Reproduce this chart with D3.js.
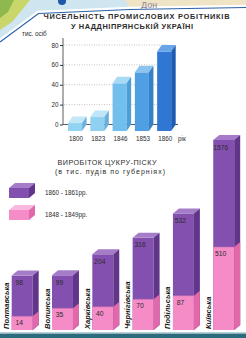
<!DOCTYPE html>
<html lang="uk">
<head>
    <meta charset="utf-8" />
    <title>Промислові робітники та цукор</title>
    <script src="https://d3js.org/d3.v7.min.js"></script>
    <style>
        body { margin: 0; background: white; }
        svg { display: block; }
        text { font-family: 'Liberation Sans', Arial, sans-serif; fill: #2b2b2b; }
    </style>
</head>
<body>
<script>
    // --- data ---
    const years = ["1800", "1823", "1846", "1853", "1860"];
    const workers = [8, 14, 48, 59, 80];          // тис. осіб
    const workerTicks = [0, 20, 40, 60, 80];

    const regions = ["Полтавська", "Волинська", "Харківська", "Чернігівська", "Подільська", "Київська"];
    const sugar1860 = [98, 99, 204, 316, 532, 1576];
    const sugar1848 = [14, 35, 40, 70, 87, 510];
    const legendLabels = ["1860 - 1861рр.", "1848 - 1849рр."];

    // colours of the blue bars (front, side, top)
    const blueShades = [
        ["#93d3f2", "#6cb2dc", "#c2e7f8"],
        ["#90d0f1", "#6aafda", "#bfe5f8"],
        ["#72bfee", "#4c9fd6", "#a8daf6"],
        ["#4f9fe2", "#3580c8", "#8cc4ef"],
        ["#2f77d3", "#1e5bb2", "#69a5e6"]
    ];
    const purple = ["#8450b0", "#61358a", "#a57cc8"];
    const pink = ["#f58cc8", "#e168aa", "#f9b8dd"];

    const W = 246, H = 338;
    const svg = d3.select("body").append("svg").attr("width", W).attr("height", H);

    // draws a box: front face, top face and right side face
    function box(g, x, yTop, yBot, w, dx, dy, c) {
        g.append("rect").attr("x", x).attr("y", yTop).attr("width", w).attr("height", yBot - yTop).attr("fill", c[0]);
        g.append("path").attr("fill", c[2])
            .attr("d", `M${x},${yTop}L${x + dx},${yTop - dy}L${x + w + dx},${yTop - dy}L${x + w},${yTop}Z`);
        g.append("path").attr("fill", c[1])
            .attr("d", `M${x + w},${yTop}L${x + w + dx},${yTop - dy}L${x + w + dx},${yBot - dy}L${x + w},${yBot}Z`);
    }

    // --- map fragment at the top ---
    const map = svg.append("g");
    map.append("path").attr("d", "M0,0H246V6L130,8L38,12L0,40Z").attr("fill", "#cfe6f1");
    map.append("path").attr("d", "M125,0H246V6L130,8Z").attr("fill", "#efe4c6");
    map.append("path").attr("d", "M0,0H30L22,10L12,22L0,30Z").attr("fill", "#c9d66a");
    map.append("path").attr("d", "M0,0H14L8,12L0,18Z").attr("fill", "#8fb84e");
    map.append("path").attr("d", "M246,6L130,8L38,12L0,40").attr("fill", "none")
        .attr("stroke", "#ffffff").attr("stroke-width", 2.5);
    map.append("path").attr("d", "M246,7.5L130,9.5L38.5,13.5L0,42").attr("fill", "none")
        .attr("stroke", "#2a62a8").attr("stroke-width", 1.2);
    map.append("circle").attr("cx", 62).attr("cy", 1).attr("r", 4).attr("fill", "#1f58a6");
    map.append("text").attr("x", 141).attr("y", 8).attr("font-size", 9).style("fill", "#8d8497").text("Дон");

    // --- chart 1: workers ---
    const c1 = svg.append("g");
    c1.append("text").attr("x", 136.5).attr("y", 18.5).attr("text-anchor", "middle")
        .attr("font-size", 7.4).attr("font-weight", "bold").attr("textLength", 186)
        .text("ЧИСЕЛЬНІСТЬ ПРОМИСЛОВИХ РОБІТНИКІВ");
    c1.append("text").attr("x", 132).attr("y", 28.5).attr("text-anchor", "middle")
        .attr("font-size", 7.4).attr("font-weight", "bold").attr("textLength", 122)
        .text("У НАДДНІПРЯНСЬКІЙ УКРАЇНІ");
    c1.append("text").attr("x", 22).attr("y", 36).attr("font-size", 6.3).text("тис. осіб");

    const x1 = d3.scaleBand().domain(years).range([68, 171.2]).paddingInner(0.37).paddingOuter(0).align(0);
    const y1 = d3.scaleLinear().domain([0, 80]).range([124.5, 45]);
    const dx1 = 4.5, dy1 = 6.5;

    // dotted grid
    c1.append("g").selectAll("line").data(workerTicks.filter(t => t > 0)).join("line")
        .attr("x1", 64).attr("x2", 168)
        .attr("y1", d => y1(d)).attr("y2", d => y1(d))
        .attr("stroke", "#9a9a9a").attr("stroke-width", 0.6).attr("stroke-dasharray", "1,1.5");

    // axes
    const yAx = c1.append("g").attr("transform", "translate(63,0)")
        .call(d3.axisLeft(y1).tickValues(workerTicks).tickSize(3).tickPadding(1.5));
    yAx.select(".domain").remove();
    yAx.selectAll("line").attr("stroke", "#333");
    yAx.selectAll("text").attr("font-size", 6.3).style("font-family", "'Liberation Sans', Arial, sans-serif").style("fill", "#2b2b2b");
    c1.append("line").attr("x1", 63).attr("x2", 63).attr("y1", 38).attr("y2", y1(0))
        .attr("stroke", "#333").attr("stroke-width", 0.8);
    c1.append("line").attr("x1", 63).attr("x2", 178).attr("y1", y1(0)).attr("y2", y1(0))
        .attr("stroke", "#333").attr("stroke-width", 0.8);

    // bars
    years.forEach((yr, i) => {
        const g = c1.append("g");
        box(g, x1(yr), y1(workers[i]) + dy1, y1(0) + dy1, x1.bandwidth(), dx1, dy1, blueShades[i]);
    });

    c1.append("g").selectAll("text").data(years).join("text")
        .attr("x", d => x1(d) + x1.bandwidth() / 2 + 1).attr("y", 140.5)
        .attr("text-anchor", "middle").attr("font-size", 6.3).text(d => d);
    c1.append("text").attr("x", 178).attr("y", 140.5).attr("font-size", 6.3).text("рік");

    // --- chart 2: sugar ---
    const c2 = svg.append("g");
    c2.append("text").attr("x", 107).attr("y", 164.5).attr("text-anchor", "middle")
        .attr("font-size", 7.2).attr("textLength", 99).text("ВИРОБІТОК ЦУКРУ-ПІСКУ");
    c2.append("text").attr("x", 110).attr("y", 173.5).attr("text-anchor", "middle")
        .attr("font-size", 7).attr("textLength", 110).text("(в тис. пудів по губерніях)");

    // legend
    [purple, pink].forEach((c, i) => {
        const top = 188 + i * 22;
        box(c2.append("g"), 9, top, top + 10, 20, 6, 5, c);
        c2.append("text").attr("x", 45).attr("y", top + 6.5).attr("font-size", 6.3).text(legendLabels[i]);
    });

    const base = 330;
    const x2 = d3.scaleBand().domain(regions).range([11.7, 234.2]).paddingInner(0.48).paddingOuter(0).align(0);
    const hTotal = d3.scalePow().exponent(0.45).domain([0, 1576]).range([0, 190]);
    const hPink = d3.scaleSqrt().domain([0, 510]).range([0, 83]);
    const dx2 = 6, dy2 = 5;
    const bw = x2.bandwidth();

    regions.forEach((r, i) => {
        const g = c2.append("g");
        const x = x2(r);
        const topP = base - hTotal(sugar1860[i]);
        const topK = base - hPink(sugar1848[i]);
        box(g, x, topP, base, bw, dx2, dy2, purple);
        // pink lower part
        g.append("rect").attr("x", x).attr("y", topK).attr("width", bw).attr("height", base - topK).attr("fill", pink[0]);
        g.append("path").attr("fill", pink[1])
            .attr("d", `M${x + bw},${topK}L${x + bw + dx2},${topK - dy2}L${x + bw + dx2},${base - dy2}L${x + bw},${base}Z`);
        g.append("line").attr("x1", x).attr("x2", x + bw).attr("y1", topK).attr("y2", topK)
            .attr("stroke", "#b86aa8").attr("stroke-width", 0.5);

        g.append("text").attr("x", x + bw / 2 - 3).attr("y", topP + 9.5)
            .attr("text-anchor", "middle").attr("font-size", 6.8).text(sugar1860[i]);
        g.append("text").attr("x", x + bw / 2 - 3).attr("y", Math.min(topK + 9, base - 1.5))
            .attr("text-anchor", "middle").attr("font-size", 6.8).text(sugar1848[i]);

        g.append("text").attr("transform", `translate(${x - 2.5},${base - 1}) rotate(-90)`)
            .attr("font-size", 7.5).attr("font-weight", "bold").attr("font-style", "italic")
            .style("fill", "#1a1a1a").text(r);
    });

    // bottom band
    svg.append("rect").attr("x", 0).attr("y", 332).attr("width", W).attr("height", 1).attr("fill", "#b7d2d8");
    svg.append("rect").attr("x", 0).attr("y", 333.5).attr("width", W).attr("height", 4.5).attr("fill", "#2a6b7c");
</script>
</body>
</html>
